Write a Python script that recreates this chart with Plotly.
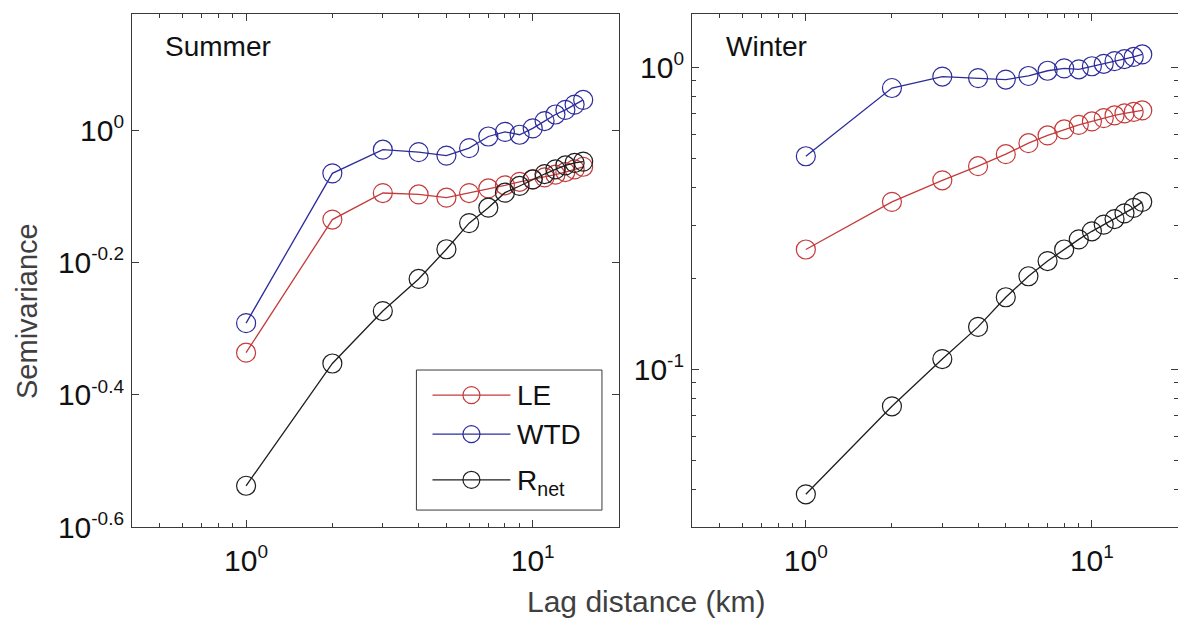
import math
import plotly.graph_objects as go

# Lag distances (km)
lag_km = [1, 2, 3, 4, 5, 6, 7, 8, 9, 10, 11, 12, 13, 14, 15]

# Summer semivariance
summer_le = [0.461, 0.733, 0.804, 0.800, 0.791, 0.804, 0.817, 0.826, 0.836, 0.843,
             0.849, 0.857, 0.865, 0.873, 0.881]
summer_wtd = [0.511, 0.861, 0.935, 0.927, 0.916, 0.940, 0.979, 0.995, 0.985, 1.007,
              1.033, 1.057, 1.074, 1.094, 1.112]
summer_rnet = [0.290, 0.444, 0.533, 0.596, 0.661, 0.724, 0.764, 0.805, 0.824, 0.843,
               0.859, 0.873, 0.885, 0.893, 0.897]

# Winter semivariance
winter_le = [0.249, 0.358, 0.422, 0.470, 0.515, 0.560, 0.594, 0.622, 0.644, 0.661,
             0.678, 0.692, 0.703, 0.711, 0.719]
winter_wtd = [0.507, 0.853, 0.931, 0.920, 0.910, 0.935, 0.973, 0.991, 0.984, 1.007,
              1.026, 1.047, 1.064, 1.081, 1.102]
winter_rnet = [0.0385, 0.0753, 0.108, 0.138, 0.173, 0.203, 0.228, 0.249, 0.269, 0.286,
               0.301, 0.314, 0.328, 0.342, 0.358]

series_names = ["LE", "WTD", "R<sub>net</sub>"]
series_colors = ["#c43b3b", "#2c2c9c", "#1e1e1e"]


def power_label(exp):
    return "10<sup><span style='font-size:19px'>" + exp + "</span></sup>"


# Axis limits and ticks
x_limits = [0.4, 20]
x_tickvals = [1, 10]
x_ticktext = [power_label("0"), power_label("1")]
x_minor = [0.5, 0.6, 0.7, 0.8, 0.9, 2, 3, 4, 5, 6, 7, 8, 9]

summer_ylimits = [0.2512, 1.5]
summer_ytickvals = [1.0, 0.631, 0.398, 0.2512]
summer_yticktext = [power_label("0"), power_label("-0.2"), power_label("-0.4"), power_label("-0.6")]

winter_ylimits = [0.03, 1.5]
winter_ytickvals = [0.1, 1.0]
winter_yticktext = [power_label("-1"), power_label("0")]
winter_yminor = [0.04, 0.05, 0.06, 0.07, 0.08, 0.09, 0.2, 0.3, 0.4, 0.5, 0.6, 0.7, 0.8, 0.9]

W, H = 1178, 619
FONT = "Liberation Sans, Arial, sans-serif"
AXC = "#3a3a3a"
TICK_FONT = dict(size=30, color="#111", family=FONT)

fig = go.Figure()


def add_series(values, color, xa, ya):
    fig.add_trace(go.Scatter(
        x=lag_km, y=values, mode="lines+markers", xaxis=xa, yaxis=ya,
        line=dict(color=color, width=1.3),
        marker=dict(symbol="circle-open", size=19, color=color, line=dict(width=1.2, color=color)),
        showlegend=False, hoverinfo="skip",
    ))


for vals, col in zip([summer_le, summer_wtd, summer_rnet], series_colors):
    add_series(vals, col, "x", "y")
for vals, col in zip([winter_le, winter_wtd, winter_rnet], series_colors):
    add_series(vals, col, "x2", "y2")


def xaxis_cfg(domain, anchor):
    return dict(
        type="log", range=[math.log10(x_limits[0]), math.log10(x_limits[1])],
        domain=domain, anchor=anchor, automargin=False,
        showline=True, linecolor=AXC, linewidth=1, mirror="ticks",
        ticks="inside", ticklen=7, tickcolor=AXC, tickwidth=1,
        tickmode="array", tickvals=x_tickvals, ticktext=x_ticktext,
        minor=dict(ticks="inside", ticklen=4, tickcolor=AXC, tickvals=x_minor, showgrid=False),
        tickfont=TICK_FONT,
        ticklabelstandoff=7,
        showgrid=False, zeroline=False,
    )


def yaxis_cfg(domain, anchor, limits, tv, tt, minor_vals=None):
    cfg = dict(
        type="log", range=[math.log10(limits[0]), math.log10(limits[1])],
        domain=domain, anchor=anchor, automargin=False,
        showline=True, linecolor=AXC, linewidth=1, mirror="ticks",
        ticks="inside", ticklen=7, tickcolor=AXC, tickwidth=1,
        tickmode="array", tickvals=tv, ticktext=tt,
        tickfont=TICK_FONT,
        ticklabelstandoff=1,
        showgrid=False, zeroline=False,
    )
    if minor_vals:
        cfg["minor"] = dict(ticks="inside", ticklen=4, tickcolor=AXC, tickvals=minor_vals, showgrid=False)
    return cfg


left_dom = [132 / W, 619 / W]
right_dom = [692 / W, 1.0]
y_dom = [92 / H, 605 / H]

fig.update_layout(
    width=W, height=H,
    margin=dict(l=0, r=0, t=0, b=0, autoexpand=False),
    paper_bgcolor="white", plot_bgcolor="white",
    font=dict(family=FONT, color="#111"),
    xaxis=xaxis_cfg(left_dom, "y"),
    yaxis=yaxis_cfg(y_dom, "x", summer_ylimits, summer_ytickvals, summer_yticktext),
    xaxis2=xaxis_cfg(right_dom, "y2"),
    yaxis2=yaxis_cfg(y_dom, "x2", winter_ylimits, winter_ytickvals, winter_yticktext, winter_yminor),
)

# Panel labels
fig.add_annotation(text="Summer", xref="x domain", yref="y domain", x=0.064, y=0.936,
                   xanchor="left", yanchor="middle", showarrow=False,
                   font=dict(size=28, color="#111", family=FONT))
fig.add_annotation(text="Winter", xref="x2 domain", yref="y2 domain", x=0.066, y=0.936,
                   xanchor="left", yanchor="middle", showarrow=False,
                   font=dict(size=28, color="#111", family=FONT))

# Shared axis titles
fig.add_annotation(text="Lag distance (km)", xref="paper", yref="paper", x=646 / W, y=(H - 601) / H,
                   xanchor="center", yanchor="middle", showarrow=False,
                   font=dict(size=30, color="#404040", family=FONT))
fig.add_annotation(text="Semivariance", xref="paper", yref="paper", x=27 / W, y=(H - 311) / H,
                   xanchor="center", yanchor="middle", textangle=-90, showarrow=False,
                   font=dict(size=29, color="#404040", family=FONT))

# Legend box inside the summer panel
fig.add_shape(type="rect", xref="x domain", yref="y domain", x0=0.584, x1=0.965, y0=0.033, y1=0.306,
              line=dict(color=AXC, width=1), fillcolor="white", layer="above")
legend_rows = [0.257, 0.181, 0.092]
for name, col, yr in zip(series_names, series_colors, legend_rows):
    fig.add_shape(type="line", xref="x domain", yref="y domain", x0=0.617, x1=0.777, y0=yr, y1=yr,
                  line=dict(color=col, width=1.3), layer="above")
    fig.add_shape(type="circle", xref="x domain", yref="y domain",
                  x0=0.697 - 0.0174, x1=0.697 + 0.0174, y0=yr - 0.0166, y1=yr + 0.0166,
                  line=dict(color=col, width=1.2), fillcolor="rgba(0,0,0,0)", layer="above")
    fig.add_annotation(text=name, xref="x domain", yref="y domain", x=0.787, y=yr,
                       xanchor="left", yanchor="middle", showarrow=False,
                       yshift=-3 if "sub" in name else 0,
                       font=dict(size=28, color="#111", family=FONT))

fig.write_html("out.html", config={"displayModeBar": False})
